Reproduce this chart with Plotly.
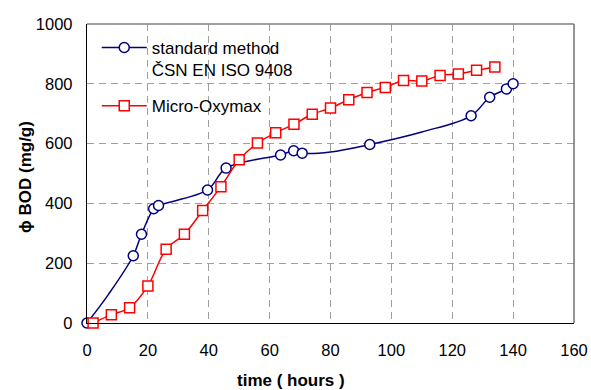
import plotly.graph_objects as go

# standard method (ČSN EN ISO 9408) – full line path and marked points
std_line_x = [0, 7, 15.2, 17.9, 21.9, 23.5, 39.6, 45.7, 63.6, 67.9, 70.7, 80, 92.9, 110, 126.2, 132.3, 137.8, 140]
std_line_y = [0, 95, 225, 297, 382, 393, 445, 518, 562, 576, 568, 572, 597, 639, 693, 755, 783, 800]
std_mark_x = [0, 15.2, 17.9, 21.9, 23.5, 39.6, 45.7, 63.6, 67.9, 70.7, 92.9, 126.2, 132.3, 137.8, 140]
std_mark_y = [0, 225, 297, 382, 393, 445, 518, 562, 576, 568, 597, 693, 755, 783, 800]

# Micro-Oxymax
mox_x = [2, 8, 14, 20, 26, 32, 38, 44, 50, 56, 62, 68, 74, 80, 86, 92, 98, 104, 110, 116, 122, 128, 134]
mox_y = [0, 28, 51, 124, 247, 297, 376, 456, 546, 602, 636, 665, 698, 719, 747, 771, 788, 811, 809, 828, 833, 845, 856]

x_ticks = [0, 20, 40, 60, 80, 100, 120, 140, 160]
y_ticks = [0, 200, 400, 600, 800, 1000]

BLUE = "#000080"
RED = "#ff0000"
FONT = "Liberation Sans, Arial, sans-serif"

W, H = 591, 390
ML, MR, MT, MB = 87, 17, 24, 67
PW, PH = W - ML - MR, H - MT - MB

def px_x(page_x):
    return (page_x - ML) / PW

def px_y(page_y):
    return 1 - (page_y - MT) / PH

fig = go.Figure()

# legend-only entry for the standard method
fig.add_trace(go.Scatter(
    x=[None], y=[None], mode="lines+markers",
    name="standard method<br>ČSN EN ISO 9408", legendgroup="std",
    line=dict(color=BLUE, width=1.5),
    marker=dict(symbol="circle", size=10, color="white", line=dict(color=BLUE, width=1.5)),
))
fig.add_trace(go.Scatter(
    x=std_line_x, y=std_line_y, mode="lines", showlegend=False, legendgroup="std",
    line=dict(color=BLUE, width=1.5, shape="spline"), hoverinfo="skip",
))
fig.add_trace(go.Scatter(
    x=std_mark_x, y=std_mark_y, mode="markers", showlegend=False, cliponaxis=False,
    legendgroup="std",
    marker=dict(symbol="circle", size=10, color="white", line=dict(color=BLUE, width=1.5)),
))
fig.add_trace(go.Scatter(
    x=mox_x, y=mox_y, mode="lines+markers", name="Micro-Oxymax", cliponaxis=False,
    legendgroup="mox",
    line=dict(color=RED, width=1.5, shape="spline"),
    marker=dict(symbol="square", size=10, color="white", line=dict(color=RED, width=1.5)),
))

fig.update_layout(
    width=W, height=H,
    margin=dict(l=ML, r=MR, t=MT, b=MB, autoexpand=False),
    paper_bgcolor="white", plot_bgcolor="white",
    font=dict(family=FONT, size=16, color="black"),
    showlegend=True,
    legend=dict(
        x=0.02, y=0.98, xanchor="left", yanchor="top",
        bgcolor="rgba(0,0,0,0)", borderwidth=0,
        font=dict(family=FONT, size=17, color="black"),
        itemwidth=45, valign="top", tracegroupgap=11,
    ),
    xaxis=dict(
        range=[0, 160], tickvals=x_ticks, ticktext=[str(v) for v in x_ticks],
        showgrid=True, gridcolor="#a0a0a0", griddash="7px,5px", gridwidth=1,
        showline=True, linecolor="black", linewidth=1.3, mirror=False,
        ticks="", ticklabelstandoff=12, zeroline=False, automargin=False,
        tickfont=dict(size=16.5),
    ),
    yaxis=dict(
        range=[0, 1000], tickvals=y_ticks, ticktext=[str(v) for v in y_ticks],
        showgrid=True, gridcolor="#a0a0a0", griddash="7px,5px", gridwidth=1,
        showline=True, linecolor="black", linewidth=1.3, mirror=False,
        ticks="", ticklabelstandoff=10, zeroline=False, automargin=False,
        tickfont=dict(size=16.5),
    ),
    shapes=[
        dict(type="line", xref="x domain", yref="y domain", x0=0, x1=1, y0=1, y1=1,
             line=dict(color="#808080", width=1.5)),
        dict(type="line", xref="x domain", yref="y domain", x0=1, x1=1, y0=0, y1=1,
             line=dict(color="#707070", width=1.5)),
    ],
    annotations=[
        dict(text="<b>time ( hours )</b>", xref="paper", yref="paper",
             x=px_x(291), y=px_y(380),
             xanchor="center", yanchor="middle", showarrow=False,
             font=dict(family=FONT, size=17, color="black")),
        dict(text="<b>ϕ BOD (mg/g)</b>", xref="paper", yref="paper",
             x=px_x(25), y=px_y(177),
             xanchor="center", yanchor="middle", textangle=-90, showarrow=False,
             font=dict(family=FONT, size=17, color="black")),
    ],
)

fig.write_html(
    "out.html",
    config={"displayModeBar": False},
    post_script="document.body.style.margin='0';document.body.style.overflow='hidden';",
)
